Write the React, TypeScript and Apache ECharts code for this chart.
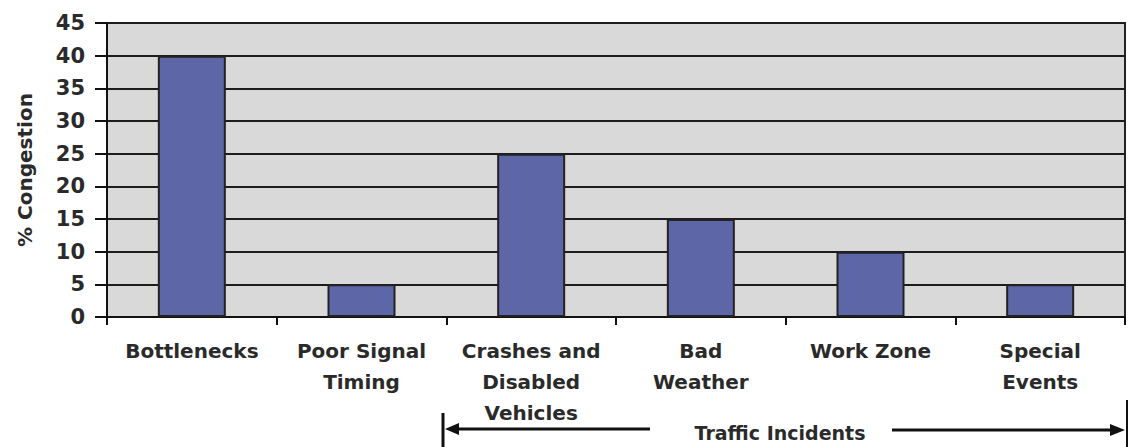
import React, { useEffect, useRef } from "react";
import * as echarts from "echarts";

// Causes of congestion and their share (%)
const categories = [
  "Bottlenecks",
  "Poor Signal\nTiming",
  "Crashes and\nDisabled\nVehicles",
  "Bad\nWeather",
  "Work Zone",
  "Special\nEvents",
];
const congestion = [40, 5, 25, 15, 10, 5];

const yMin = 0;
const yMax = 45;
const yStep = 5;

const groupLabel = "Traffic Incidents";

const FONT = "'DejaVu Sans', Arial, sans-serif";
const INK = "#2a2a2a";

export default function App() {
  const ref = useRef<HTMLDivElement>(null);

  useEffect(() => {
    document.body.style.margin = "0";
    const chart = echarts.init(ref.current!, null, { renderer: "svg" });
    chart.setOption({
      animation: false,
      backgroundColor: "#ffffff",
      grid: {
        left: 107,
        right: 10,
        top: 23,
        bottom: 130,
        show: true,
        backgroundColor: "#d9d9d9",
        borderColor: "#222222",
        borderWidth: 2,
      },
      xAxis: {
        type: "category",
        data: categories,
        boundaryGap: true,
        axisLine: { lineStyle: { color: "#111111", width: 2 } },
        axisTick: {
          show: true,
          alignWithLabel: false,
          length: 8,
          lineStyle: { color: "#111111", width: 2 },
        },
        axisLabel: {
          interval: 0,
          margin: 18,
          fontFamily: FONT,
          fontWeight: "bold",
          fontSize: 20,
          lineHeight: 31,
          color: INK,
        },
      },
      yAxis: {
        type: "value",
        min: yMin,
        max: yMax,
        interval: yStep,
        name: "% Congestion",
        nameLocation: "middle",
        nameRotate: 90,
        nameGap: 72,
        nameTextStyle: {
          fontFamily: FONT,
          fontWeight: "bold",
          fontSize: 20,
          color: INK,
        },
        axisLine: { show: true, lineStyle: { color: "#111111", width: 2 } },
        axisTick: {
          show: true,
          inside: false,
          length: 12,
          lineStyle: { color: "#111111", width: 2 },
        },
        axisLabel: {
          margin: 22,
          fontFamily: FONT,
          fontWeight: "bold",
          fontSize: 21,
          color: INK,
        },
        splitLine: { show: true, lineStyle: { color: "#1c1c1c", width: 2 } },
      },
      series: [
        {
          type: "bar",
          data: congestion,
          barWidth: 68,
          itemStyle: {
            color: "#5d67a8",
            borderColor: "#222222",
            borderWidth: 2,
          },
        },
      ],
      graphic: [
        {
          type: "line",
          shape: { x1: 443, y1: 413, x2: 443, y2: 447 },
          style: { stroke: "#111111", lineWidth: 3 },
        },
        {
          type: "line",
          shape: { x1: 450, y1: 429, x2: 650, y2: 429 },
          style: { stroke: "#111111", lineWidth: 3 },
        },
        {
          type: "polygon",
          shape: { points: [[445, 429], [459, 423], [459, 435]] },
          style: { fill: "#111111" },
        },
        {
          type: "text",
          x: 780,
          y: 433,
          style: {
            text: groupLabel,
            align: "center",
            verticalAlign: "middle",
            fontFamily: FONT,
            fontWeight: "bold",
            fontSize: 19,
            fill: INK,
          },
        },
        {
          type: "line",
          shape: { x1: 892, y1: 430, x2: 1115, y2: 430 },
          style: { stroke: "#111111", lineWidth: 3 },
        },
        {
          type: "polygon",
          shape: { points: [[1125, 430], [1110, 424], [1110, 436]] },
          style: { fill: "#111111" },
        },
        {
          type: "line",
          shape: { x1: 1127, y1: 400, x2: 1127, y2: 447 },
          style: { stroke: "#111111", lineWidth: 2 },
        },
      ],
    });
    return () => chart.dispose();
  }, []);

  return <div ref={ref} style={{ width: 1135, height: 447 }} />;
}
